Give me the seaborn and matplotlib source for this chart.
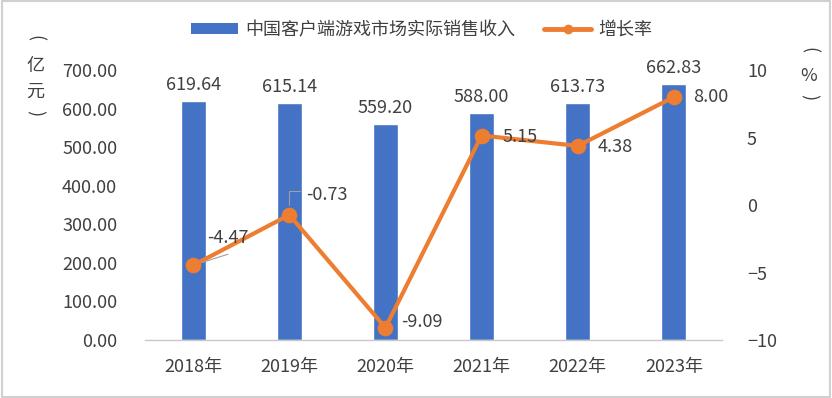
import numpy as np
import pandas as pd
import seaborn as sns
import matplotlib.pyplot as plt
from matplotlib.patches import Patch, Rectangle
from matplotlib.lines import Line2D

years = ['2018年', '2019年', '2020年', '2021年', '2022年', '2023年']
revenue = [619.64, 615.14, 559.20, 588.00, 613.73, 662.83]
growth = [-4.47, -0.73, -9.09, 5.15, 4.38, 8.00]

bar_name = '中国客户端游戏市场实际销售收入'
line_name = '增长率'

blue = '#4472C4'
orange = '#ED7D31'
txt = '#404040'

sns.set_style('white')
plt.rcParams['font.family'] = ['Noto Sans CJK SC', 'DejaVu Sans']

df = pd.DataFrame({'year': years, 'revenue': revenue, 'growth': growth})

fig = plt.figure(figsize=(8.32, 3.98), dpi=100)
ax = fig.add_axes([0.1743, 0.1457, 0.6935, 0.6783])

sns.barplot(data=df, x='year', y='revenue', color=blue, width=0.26,
            saturation=1, ax=ax)
ax.set_ylim(0, 700)
ax.set_xlim(-0.5, 5.5)
ax.set_yticks(np.arange(0, 701, 100))
ax.set_yticklabels([f'{v:.2f}' for v in np.arange(0, 701, 100)])
ax.set_xlabel('')
ax.set_ylabel('')
for s in ['top', 'right', 'left']:
    ax.spines[s].set_visible(False)
ax.spines['bottom'].set_color('#c8c8c8')
ax.spines['bottom'].set_linewidth(1)
ax.tick_params(axis='y', length=0, labelsize=13, labelcolor=txt, pad=20)
ax.tick_params(axis='x', which='major', length=0, labelsize=13,
               labelcolor=txt, pad=13)
ax.set_xticks(np.arange(-0.5, 6, 1), minor=True)
ax.tick_params(axis='x', which='minor', length=5, color='#c8c8c8',
               direction='out')

for i, v in enumerate(revenue):
    ax.text(i, v + 18, f'{v:.2f}', ha='center', va='bottom',
            fontsize=13, color=txt)

ax2 = ax.twinx()
sns.pointplot(data=df, x='year', y='growth', color=orange, markers='o',
              markersize=9, linewidth=3, ax=ax2)
ax2.set_ylim(-10, 10)
ax2.set_xlim(-0.5, 5.5)
ax2.set_yticks([-10, -5, 0, 5, 10])
ax2.set_ylabel('')
ax2.set_xlabel('')
for s in ['top', 'right', 'left', 'bottom']:
    ax2.spines[s].set_visible(False)
ax2.tick_params(axis='y', length=0, labelsize=13, labelcolor=txt, pad=18)

offsets = [(10, 20), (12, 14), (11, 4), (15, -1), (14, -1), (14, 0)]
for i, (g, off) in enumerate(zip(growth, offsets)):
    ax2.annotate(f'{g:.2f}', (i, g), xytext=off, textcoords='offset points',
                 ha='left', va='center', fontsize=13, color=txt)
# leader lines
ax2.annotate('', (0, growth[0]), xytext=(25, 8), textcoords='offset points',
             arrowprops=dict(arrowstyle='-', color='#a0a0a0', lw=0.8,
                             shrinkA=0, shrinkB=7))
ax2.annotate('', (1, growth[1]), xytext=(8, 17), textcoords='offset points',
             arrowprops=dict(arrowstyle='-', color='#a0a0a0', lw=0.8,
                             shrinkA=0, shrinkB=7,
                             connectionstyle='angle,angleA=0,angleB=90,rad=0'))

# vertical axis titles
for s, y, r in [('(', 0.905, -90), ('亿', 0.835, 0), ('元', 0.77, 0),
                (')', 0.715, -90)]:
    fig.text(0.042, y, s, ha='center', va='center', fontsize=13,
             color=txt, rotation=r)
for s, y, r in [('(', 0.875, -90), ('%', 0.81, 0), (')', 0.755, -90)]:
    fig.text(0.972, y, s, ha='center', va='center', fontsize=13,
             color=txt, rotation=r)

handles = [Patch(facecolor=blue, edgecolor='none'),
           Line2D([0], [0], color=orange, lw=3.5, marker='o', markersize=6)]
fig.legend(handles, [bar_name, line_name], loc='center',
           bbox_to_anchor=(0.507, 0.925), ncol=2, frameon=False,
           fontsize=13, handlelength=2.6, handleheight=0.6,
           columnspacing=1.6, handletextpad=0.4, labelcolor=txt)

fig.patches.append(Rectangle((0.002, 0.003), 0.996, 0.994,
                             transform=fig.transFigure, fill=False,
                             edgecolor='#d0d0d0', lw=1.5))

fig.savefig('out.png', dpi=100)
